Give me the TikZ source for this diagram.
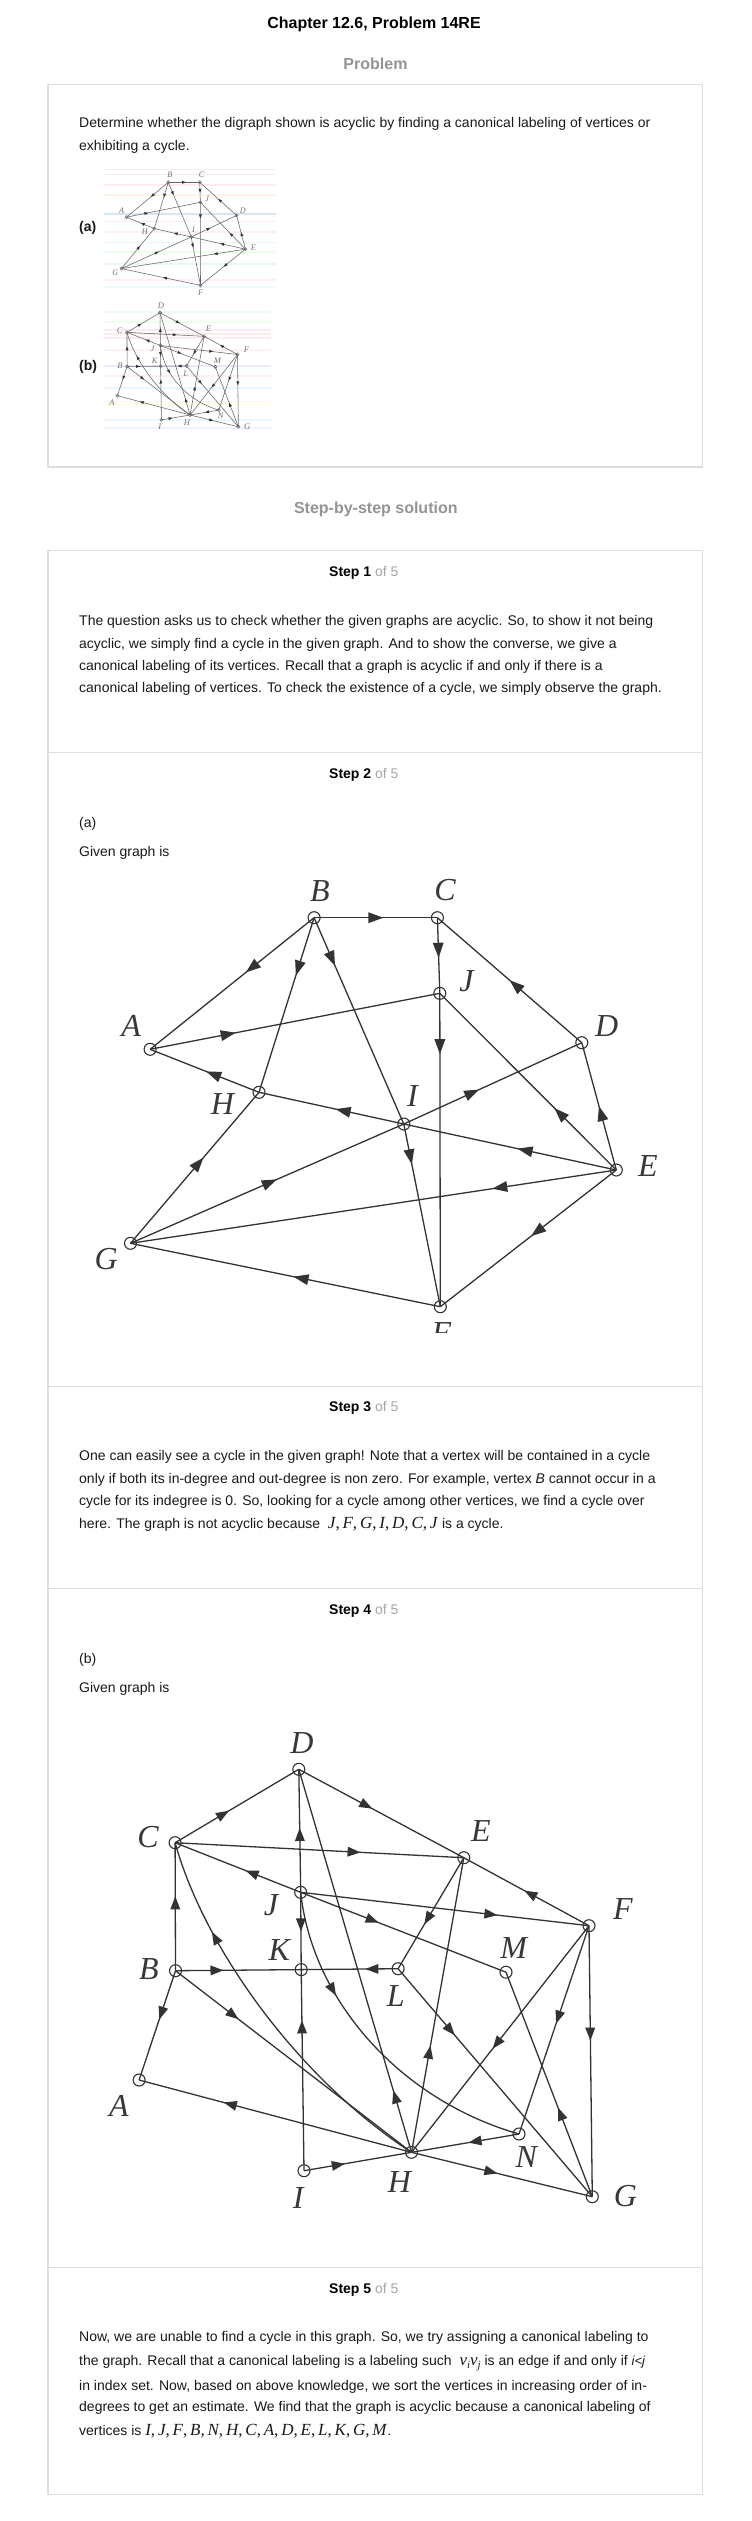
\documentclass[tikz,border=0pt]{standalone}
\usepackage{fontspec}
\setmainfont{Liberation Sans}
\newfontfamily\serf{Liberation Serif}
\usetikzlibrary{decorations.markings}
\newcommand\glabel{\serf\itshape\fontsize{32}{32}\selectfont}
\newcommand\arL{7.5pt}
\newcommand\arW{5.5pt}
\newcommand\mathf{\serf\fontsize{17}{17}\selectfont}
\tikzset{
 boxline/.style={draw=black!13, line width=1.2pt},
 vtx/.style={circle, draw=black!80, line width=1.1pt, minimum size=12pt, inner sep=0pt},
 lbl/.style={font=\glabel, text=black!78, inner sep=0pt},
 ed/.style={draw=black!80, line width=1.3pt},
 mk/.style={postaction={decorate, decoration={markings, mark=at position #1 with {\fill[black!80] (\arL,0pt) -- (-\arL,\arW) -- (-\arL,-\arW) -- cycle;}}}},
 body/.style={anchor=base west, inner sep=0pt, font=\fontsize{14}{17}\selectfont, text=black!90},
 stephead/.style={anchor=base west, inner sep=0pt, font=\fontsize{14}{17}\selectfont},
 heading/.style={anchor=base, inner sep=0pt, font=\bfseries\fontsize{16}{19}\selectfont, text=black!42},
 stripe/.style={line width=1.2pt, opacity=0.18},
}
% ---------- graph (a) ----------
\newcommand\graphA[1]{%
 \node[vtx] (#1A) at (150.1,1049.3) {};
 \node[vtx] (#1B) at (314.1,917.7) {};
 \node[vtx] (#1C) at (437.4,917.7) {};
 \node[vtx] (#1D) at (581.8,1042.7) {};
 \node[vtx] (#1E) at (616.3,1170) {};
 \node[vtx] (#1F) at (440.3,1306.7) {};
 \node[vtx] (#1G) at (130.5,1243.3) {};
 \node[vtx] (#1H) at (259,1092.3) {};
 \node[vtx] (#1I) at (403.8,1124) {};
 \node[vtx] (#1J) at (439.8,993.3) {};
 \node[lbl] (#1lA) at (131.2,1025.8) {A};
 \node[lbl] (#1lB) at (320,891) {B};
 \node[lbl] (#1lC) at (445,890.5) {C};
 \node[lbl] (#1lD) at (606.7,1025.8) {D};
 \node[lbl] (#1lE) at (648,1166) {E};
 \node[lbl] (#1lF) at (441.3,1333.5) {F};
 \node[lbl] (#1lG) at (106.3,1259.3) {G};
 \node[lbl] (#1lH) at (222.5,1104) {H};
 \node[lbl] (#1lI) at (412.5,1096) {I};
 \node[lbl] (#1lJ) at (466.4,981) {J};
 \draw[ed, mk=0.5] (#1B.center) -- (#1C.center);
 \draw[ed, mk=0.38] (#1B.center) -- (#1A.center);
 \draw[ed, mk=0.29] (#1B.center) -- (#1H.center);
 \draw[ed, mk=0.2] (#1B.center) -- (#1I.center);
 \draw[ed, mk=0.43] (#1C.center) -- (#1J.center);
 \draw[ed, mk=0.46] (#1D.center) -- (#1C.center);
 \draw[ed, mk=0.27] (#1A.center) -- (#1J.center);
 \draw[ed, mk=0.17] (#1J.center) -- (#1F.center);
 \draw[ed, mk=0.32] (#1E.center) -- (#1J.center);
 \draw[ed, mk=0.445] (#1E.center) -- (#1D.center);
 \draw[ed, mk=0.42] (#1H.center) -- (#1A.center);
 \draw[ed, mk=0.43] (#1E.center) -- (#1I.center);
 \draw[ed, mk=0.42] (#1I.center) -- (#1H.center);
 \draw[ed, mk=0.51] (#1G.center) -- (#1I.center);
 \draw[ed, mk=0.385] (#1I.center) -- (#1D.center);
 \draw[ed, mk=0.53] (#1G.center) -- (#1H.center);
 \draw[ed, mk=0.24] (#1E.center) -- (#1G.center);
 \draw[ed, mk=0.45] (#1F.center) -- (#1G.center);
 \draw[ed, mk=0.45] (#1E.center) -- (#1F.center);
 \draw[ed, mk=0.18] (#1I.center) -- (#1F.center);
}
% ---------- graph (b) ----------
\newcommand\graphB[1]{%
 \node[vtx] (#1A) at (139.1,2080) {};
 \node[vtx] (#1B) at (175.5,1970.7) {};
 \node[vtx] (#1C) at (175.1,1842.7) {};
 \node[vtx] (#1D) at (298.8,1769.3) {};
 \node[vtx] (#1E) at (463.8,1857.7) {};
 \node[vtx] (#1F) at (589,1925.7) {};
 \node[vtx] (#1G) at (592.3,2196.7) {};
 \node[vtx] (#1H) at (411.5,2152.3) {};
 \node[vtx] (#1I) at (304,2170.7) {};
 \node[vtx] (#1J) at (300.7,1892.3) {};
 \node[vtx] (#1K) at (301.2,1969.6) {};
 \node[vtx] (#1L) at (398.1,1968.7) {};
 \node[vtx] (#1M) at (506,1972.2) {};
 \node[vtx] (#1N) at (519,2134) {};
 \node[lbl] (#1lA) at (119,2105.5) {A};
 \node[lbl] (#1lB) at (149,1968.8) {B};
 \node[lbl] (#1lC) at (148,1837.5) {C};
 \node[lbl] (#1lD) at (302,1743.3) {D};
 \node[lbl] (#1lE) at (480.8,1831) {E};
 \node[lbl] (#1lF) at (623,1909) {F};
 \node[lbl] (#1lG) at (625.5,2195.8) {G};
 \node[lbl] (#1lH) at (399.5,2181.7) {H};
 \node[lbl] (#1lI) at (298.3,2198) {I};
 \node[lbl] (#1lJ) at (271,1905) {J};
 \node[lbl] (#1lK) at (279.3,1949.7) {K};
 \node[lbl] (#1lL) at (395.7,1996.3) {L};
 \node[lbl] (#1lM) at (513.7,1947.8) {M};
 \node[lbl] (#1lN) at (526.4,2156.7) {N};
 \draw[ed, mk=0.39] (#1C.center) -- (#1D.center);
 \draw[ed, mk=0.41] (#1D.center) -- (#1E.center);
 \draw[ed, mk=0.62] (#1C.center) -- (#1E.center);
 \draw[ed, mk=0.47] (#1J.center) -- (#1D.center);
 \draw[ed, mk=0.39] (#1J.center) -- (#1C.center);
 \draw[ed, mk=0.47] (#1F.center) -- (#1E.center);
 \draw[ed, mk=0.66] (#1J.center) -- (#1F.center);
 \draw[ed, mk=0.35] (#1J.center) -- (#1M.center);
 \draw[ed, mk=0.42] (#1J.center) -- (#1K.center);
 \draw[ed, mk=0.55] (#1E.center) -- (#1L.center);
 \draw[ed, mk=0.53] (#1B.center) -- (#1C.center);
 \draw[ed, mk=0.33] (#1B.center) -- (#1K.center);
 \draw[ed, mk=0.27] (#1L.center) -- (#1K.center);
 \draw[ed, mk=0.39] (#1B.center) -- (#1A.center);
 \draw[ed, mk=0.245] (#1B.center) -- (#1H.center);
 \draw[ed, mk=0.74] (#1H.center) .. controls (300,2080) and (205,1950) .. (#1C.center);
 \draw[ed, mk=0.715] (#1I.center) -- (#1K.center);
 \draw[ed, mk=0.3] (#1J.center) .. controls (312,2000) and (400,2100) .. (#1N.center);
 \draw[ed, mk=0.145] (#1H.center) -- (#1D.center);
 \draw[ed, mk=0.666] (#1H.center) -- (#1A.center);
 \draw[ed, mk=0.34] (#1H.center) -- (#1E.center);
 \draw[ed, mk=0.32] (#1I.center) -- (#1H.center);
 \draw[ed, mk=0.41] (#1N.center) -- (#1H.center);
 \draw[ed, mk=0.44] (#1H.center) -- (#1G.center);
 \draw[ed, mk=0.52] (#1F.center) -- (#1H.center);
 \draw[ed, mk=0.44] (#1F.center) -- (#1N.center);
 \draw[ed, mk=0.40] (#1F.center) -- (#1G.center);
 \draw[ed, mk=0.27] (#1L.center) -- (#1G.center);
 \draw[ed, mk=0.37] (#1G.center) -- (#1M.center);
}
\begin{document}
\begin{tikzpicture}[x=1pt, y=-1pt]
\useasboundingbox (0,0) rectangle (752,2521);
\fill[white] (0,0) rectangle (752,2521);

% ---------- header ----------
\node[anchor=base, inner sep=0pt, font=\bfseries\fontsize{16}{19}\selectfont, text=black] (title) at (374,29) {Chapter 12.6, Problem 14RE};
\node[heading] (problem) at (375.5,70) {Problem};

% ---------- problem box ----------
\draw[boxline] (48,84.3) rectangle (702.6,467);
\node[body] (p1) at (79,127.5) {Determine whether the digraph shown is acyclic by finding a canonical labeling of vertices or};
\node[body] (p2) at (79,150) {exhibiting a cycle.};
\node[body, font=\bfseries\fontsize{14}{17}\selectfont] (pa) at (79,231.5) {(a)};
\node[body, font=\bfseries\fontsize{14}{17}\selectfont] (pb) at (79,370.5) {(b)};

% thumbnail (a)
\begin{scope}
 \clip (104,166) rectangle (276,290);
 \draw[stripe, magenta!45] (104,169.3) -- (276,169.3);
 \draw[stripe, violet!40] (104,174.3) -- (276,174.3);
 \draw[stripe, magenta!40] (104,185) -- (276,185);
 \draw[stripe, orange!50] (104,195) -- (276,195);
 \draw[stripe, cyan!60!blue] (104,214) -- (276,214);
 \draw[stripe, magenta!40] (104,221.7) -- (276,221.7);
 \draw[stripe, magenta!35] (104,232) -- (276,232);
 \draw[stripe, cyan!50] (104,242.7) -- (276,242.7);
 \draw[stripe, green!40] (104,252) -- (276,252);
 \draw[stripe, cyan!50] (104,264) -- (276,264);
 \draw[stripe, magenta!35] (104,280) -- (276,280);
 \draw[stripe, cyan!40] (104,287) -- (276,287);
\end{scope}
\begin{scope}[shift={(168.3,182.3)}, xscale=0.255, yscale=0.265, shift={(-314.1,-917.7)}, transform shape,
  ed/.style={draw=black!60, line width=0.55pt},
  vtx/.style={circle, draw=black!60, line width=0.5pt, minimum size=12pt, inner sep=0pt},
  lbl/.style={font=\glabel, text=black!55, inner sep=0pt}]
 \renewcommand\arL{2pt}\renewcommand\arW{1.5pt}
 \graphA{ta}
\end{scope}

% thumbnail (b)
\begin{scope}
 \clip (104,300) rectangle (271,436);
 \draw[stripe, cyan!40] (104,312) -- (271,312);
 \draw[stripe, green!35] (104,322) -- (271,322);
 \draw[stripe, magenta!50] (104,330) -- (271,330);
 \draw[stripe, red!45] (104,334) -- (271,334);
 \draw[stripe, magenta!45] (104,338) -- (271,338);
 \draw[stripe, magenta!30] (104,350) -- (271,350);
 \draw[stripe, blue!45] (104,366) -- (271,366);
 \draw[stripe, magenta!35] (104,376) -- (271,376);
 \draw[stripe, cyan!45] (104,388) -- (271,388);
 \draw[stripe, orange!45] (104,401.7) -- (271,401.7);
 \draw[stripe, yellow!60] (104,404) -- (271,404);
 \draw[stripe, cyan!45] (104,420) -- (271,420);
 \draw[stripe, blue!30] (104,428) -- (271,428);
\end{scope}
\begin{scope}[shift={(160,312.7)}, scale=0.267, shift={(-298.8,-1769.3)}, transform shape,
  ed/.style={draw=black!60, line width=0.55pt},
  vtx/.style={circle, draw=black!60, line width=0.5pt, minimum size=12pt, inner sep=0pt},
  lbl/.style={font=\glabel, text=black!55, inner sep=0pt}]
 \renewcommand\arL{2pt}\renewcommand\arW{1.5pt}
 \graphB{tb}
\end{scope}

% ---------- solution ----------
\node[heading] (sbs) at (375.8,513.8) {Step-by-step solution};
\draw[boxline] (48,550.3) rectangle (702.6,2494.3);
\draw[boxline] (48,752.5) -- (702.6,752.5);
\draw[boxline] (48,1386.7) -- (702.6,1386.7);
\draw[boxline] (48,1588.3) -- (702.6,1588.3);
\draw[boxline] (48,2267.3) -- (702.6,2267.3);

% step 1
\node[stephead] (s1) at (329,576.7) {\textbf{Step 1} \textcolor{black!35}{of 5}};
\node[body] (s1a) at (79,625.7) {The question asks us to check whether the given graphs are acyclic. So, to show it not being};
\node[body] (s1b) at (79,648.1) {acyclic, we simply find a cycle in the given graph. And to show the converse, we give a};
\node[body] (s1c) at (79,670.5) {canonical labeling of its vertices. Recall that a graph is acyclic if and only if there is a};
\node[body] (s1d) at (79,692.9) {canonical labeling of vertices. To check the existence of a cycle, we simply observe the graph.};

% step 2
\node[stephead] (s2) at (329,778.3) {\textbf{Step 2} \textcolor{black!35}{of 5}};
\node[body] (s2a) at (79,827.7) {(a)};
\node[body] (s2b) at (79,856) {Given graph is};
\begin{scope}
 \clip (49,860) rectangle (701,1332.5);
 \graphA{a}
\end{scope}

% step 3
\node[stephead] (s3) at (329,1411.7) {\textbf{Step 3} \textcolor{black!35}{of 5}};
\node[body] (s3a) at (79,1460.7) {One can easily see a cycle in the given graph! Note that a vertex will be contained in a cycle};
\node[body] (s3b) at (79,1483.3) {only if both its in-degree and out-degree is non zero. For example, vertex \textit{B} cannot occur in a};
\node[body] (s3c) at (79,1505.9) {cycle for its indegree is 0. So, looking for a cycle among other vertices, we find a cycle over};
\node[body] (s3d) at (79,1528.5) {here. The graph is not acyclic because \ {\mathf\textit{J},\,\textit{F},\,\textit{G},\,\textit{I},\,\textit{D},\,\textit{C},\,\textit{J}} is a cycle.};

% step 4
\node[stephead] (s4) at (329,1614) {\textbf{Step 4} \textcolor{black!35}{of 5}};
\node[body] (s4a) at (79,1663.5) {(b)};
\node[body] (s4b) at (79,1692.7) {Given graph is};
\begin{scope}
 \renewcommand\arL{6.5pt}\renewcommand\arW{5pt}
 \graphB{b}
\end{scope}

% step 5
\node[stephead] (s5) at (329,2293.3) {\textbf{Step 5} \textcolor{black!35}{of 5}};
\node[body] (s5a) at (79,2341.7) {Now, we are unable to find a cycle in this graph. So, we try assigning a canonical labeling to};
\node[body] (s5b) at (79,2365.5) {the graph. Recall that a canonical labeling is a labeling such \ {\mathf\textit{v}\raisebox{-3pt}{\fontsize{11}{11}\selectfont\textit{i}}\textit{v}\raisebox{-3pt}{\fontsize{11}{11}\selectfont\textit{j}}} is an edge if and only if {\fontsize{13}{13}\selectfont\textit{i<j}}};
\node[body] (s5c) at (79,2390) {in index set. Now, based on above knowledge, we sort the vertices in increasing order of in-};
\node[body] (s5d) at (79,2411.7) {degrees to get an estimate. We find that the graph is acyclic because a canonical labeling of};
\node[body] (s5e) at (79,2435) {vertices is {\mathf\textit{I},\,\textit{J},\,\textit{F},\,\textit{B},\,\textit{N},\,\textit{H},\,\textit{C},\,\textit{A},\,\textit{D},\,\textit{E},\,\textit{L},\,\textit{K},\,\textit{G},\,\textit{M}}.};
\end{tikzpicture}
\end{document}
